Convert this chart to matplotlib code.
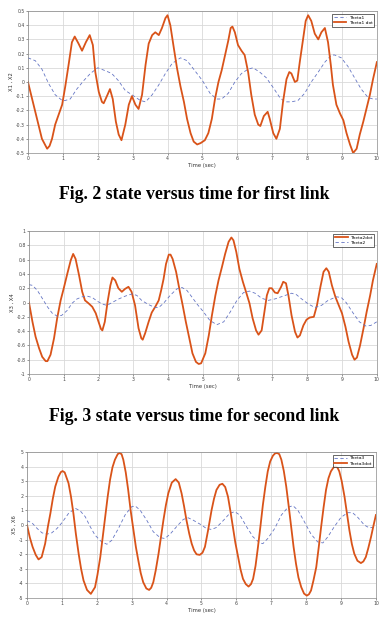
import matplotlib
matplotlib.use("Agg")
import matplotlib.pyplot as plt

# ---------------- Panel 1 (first link) ----------------
t1_dot = [0.0, 0.21, 0.4, 0.55, 0.62, 0.69, 0.78, 0.88, 0.98, 1.07, 1.17, 1.26, 1.34, 1.45, 1.55,
          1.66, 1.77, 1.86, 1.93, 2.03, 2.12, 2.17, 2.28, 2.35, 2.43, 2.52, 2.6, 2.68, 2.79, 2.89,
          2.98, 3.08, 3.17, 3.27, 3.37, 3.46, 3.56, 3.65, 3.75, 3.84, 3.94, 4.0, 4.08, 4.18, 4.27,
          4.37, 4.47, 4.56, 4.66, 4.75, 4.85, 4.95, 5.07, 5.17, 5.27, 5.36, 5.46, 5.55, 5.65, 5.74,
          5.81, 5.86, 5.93, 6.02, 6.12, 6.21, 6.31, 6.4, 6.5, 6.6, 6.66, 6.76, 6.87, 6.93, 7.03,
          7.12, 7.22, 7.31, 7.41, 7.49, 7.55, 7.65, 7.72, 7.79, 7.89, 7.96, 8.03, 8.12, 8.22, 8.32,
          8.41, 8.51, 8.6, 8.68, 8.74, 8.84, 8.94, 9.04, 9.13, 9.23, 9.32, 9.42, 9.51, 9.61, 9.7,
          9.8, 9.89, 10.0]
theta1_dot = [0.0, -0.21, -0.40, -0.47, -0.45, -0.40, -0.30, -0.23, -0.16, -0.03, 0.13, 0.28, 0.32, 0.27, 0.22,
              0.28, 0.33, 0.26, 0.07, -0.07, -0.14, -0.15, -0.09, -0.05, -0.12, -0.28, -0.37, -0.41, -0.30, -0.16,
              -0.10, -0.16, -0.19, -0.09, 0.12, 0.27, 0.33, 0.35, 0.33, 0.38, 0.45, 0.47, 0.40, 0.24, 0.10,
              -0.03, -0.14, -0.26, -0.36, -0.42, -0.44, -0.43, -0.41, -0.36, -0.26, -0.12, 0.0, 0.08, 0.19, 0.29,
              0.38, 0.39, 0.35, 0.26, 0.22, 0.19, 0.07, -0.09, -0.23, -0.30, -0.31, -0.24, -0.21, -0.26, -0.36,
              -0.40, -0.33, -0.14, 0.02, 0.07, 0.06, 0.0, 0.01, 0.14, 0.31, 0.43, 0.47, 0.43, 0.34, 0.30,
              0.35, 0.38, 0.28, 0.12, -0.02, -0.16, -0.22, -0.27, -0.36, -0.44, -0.50, -0.47, -0.37, -0.28, -0.19,
              -0.09, 0.02, 0.14]

t1 = [0.0, 0.21, 0.4, 0.59, 0.78, 0.98, 1.07, 1.21, 1.4, 1.6, 1.79, 2.0, 2.21, 2.4, 2.59, 2.79,
      2.98, 3.22, 3.37, 3.56, 3.75, 3.94, 4.13, 4.37, 4.56, 4.75, 5.0, 5.22, 5.41, 5.55, 5.74,
      5.93, 6.12, 6.31, 6.45, 6.64, 6.83, 7.03, 7.22, 7.36, 7.55, 7.74, 7.93, 8.12, 8.32, 8.51,
      8.7, 8.79, 8.98, 9.17, 9.36, 9.55, 9.75, 9.89, 10.0]
theta1 = [0.17, 0.15, 0.09, -0.01, -0.09, -0.13, -0.13, -0.12, -0.05, 0.01, 0.06, 0.10, 0.08, 0.06, 0.01, -0.06,
          -0.09, -0.13, -0.14, -0.09, -0.02, 0.06, 0.13, 0.17, 0.15, 0.09, 0.01, -0.08, -0.12, -0.12, -0.08,
          0.0, 0.06, 0.09, 0.10, 0.07, 0.03, -0.04, -0.11, -0.14, -0.14, -0.13, -0.08, 0.0, 0.07, 0.14,
          0.19, 0.19, 0.17, 0.11, 0.03, -0.05, -0.11, -0.12, -0.12]

# ---------------- Panel 2 (second link) ----------------
t2_dot = [0.0, 0.1, 0.19, 0.29, 0.38, 0.48, 0.53, 0.62, 0.72, 0.81, 0.91, 1.0, 1.1, 1.2, 1.27, 1.34,
          1.44, 1.53, 1.61, 1.71, 1.82, 1.92, 2.0, 2.07, 2.11, 2.18, 2.26, 2.34, 2.4, 2.48, 2.57,
          2.67, 2.76, 2.86, 2.95, 3.05, 3.15, 3.23, 3.27, 3.34, 3.44, 3.53, 3.63, 3.73, 3.8, 3.87,
          3.94, 4.02, 4.07, 4.13, 4.23, 4.32, 4.42, 4.51, 4.61, 4.7, 4.8, 4.88, 4.95, 5.07, 5.17,
          5.26, 5.36, 5.45, 5.55, 5.64, 5.74, 5.82, 5.88, 5.96, 6.05, 6.15, 6.24, 6.34, 6.43, 6.53,
          6.6, 6.69, 6.77, 6.84, 6.91, 6.98, 7.07, 7.15, 7.25, 7.31, 7.39, 7.46, 7.55, 7.65, 7.72,
          7.79, 7.89, 7.98, 8.07, 8.19, 8.28, 8.38, 8.47, 8.55, 8.62, 8.71, 8.81, 8.9, 9.0, 9.1,
          9.19, 9.29, 9.36, 9.43, 9.52, 9.62, 9.71, 9.81, 9.89, 10.0]
theta2_dot = [0.0, -0.27, -0.48, -0.64, -0.76, -0.82, -0.82, -0.73, -0.50, -0.22, 0.03, 0.20, 0.40, 0.59, 0.68, 0.61,
              0.38, 0.15, 0.03, -0.01, -0.06, -0.15, -0.27, -0.37, -0.39, -0.27, 0.01, 0.24, 0.35, 0.31, 0.20,
              0.15, 0.19, 0.22, 0.15, -0.04, -0.36, -0.50, -0.52, -0.43, -0.27, -0.14, -0.06, 0.03, 0.17, 0.33,
              0.54, 0.67, 0.67, 0.61, 0.43, 0.20, -0.04, -0.27, -0.50, -0.71, -0.83, -0.86, -0.85, -0.71, -0.46,
              -0.18, 0.10, 0.31, 0.50, 0.68, 0.85, 0.91, 0.87, 0.71, 0.47, 0.29, 0.15, -0.01, -0.22, -0.39,
              -0.45, -0.39, -0.13, 0.10, 0.20, 0.20, 0.14, 0.13, 0.22, 0.29, 0.27, 0.10, -0.18, -0.41, -0.49,
              -0.46, -0.32, -0.24, -0.21, -0.20, -0.04, 0.22, 0.43, 0.48, 0.43, 0.24, 0.08, -0.03, -0.15, -0.34,
              -0.55, -0.73, -0.80, -0.77, -0.60, -0.36, -0.13, 0.10, 0.31, 0.54]

t2 = [0.0, 0.1, 0.24, 0.38, 0.53, 0.67, 0.81, 0.94, 1.1, 1.24, 1.38, 1.53, 1.67, 1.82, 1.96, 2.1,
      2.24, 2.39, 2.58, 2.77, 2.96, 3.1, 3.24, 3.44, 3.63, 3.73, 3.87, 4.06, 4.25, 4.4, 4.54,
      4.68, 4.83, 5.0, 5.2, 5.4, 5.6, 5.79, 5.98, 6.17, 6.34, 6.5, 6.69, 6.88, 7.07, 7.31, 7.55,
      7.69, 7.84, 8.03, 8.22, 8.41, 8.6, 8.84, 8.98, 9.12, 9.31, 9.5, 9.69, 9.83, 10.0]
theta2 = [0.25, 0.24, 0.17, 0.06, -0.06, -0.15, -0.19, -0.18, -0.11, -0.01, 0.05, 0.08, 0.09, 0.07, 0.02, -0.02,
          -0.04, 0.0, 0.05, 0.09, 0.12, 0.10, 0.03, -0.03, -0.07, -0.07, -0.01, 0.10, 0.19, 0.21, 0.17,
          0.08, -0.02, -0.12, -0.25, -0.31, -0.27, -0.13, 0.03, 0.14, 0.16, 0.13, 0.06, 0.03, 0.05, 0.09, 0.13,
          0.11, 0.05, -0.02, -0.07, -0.04, 0.03, 0.08, 0.07, 0.0, -0.14, -0.27, -0.33, -0.32, -0.27]

# ---------------- Panel 3 ----------------
t3_dot = [0.0, 0.08, 0.16, 0.25, 0.33, 0.42, 0.52, 0.6, 0.67, 0.74, 0.81, 0.9, 0.97, 1.02, 1.08, 1.19,
          1.26, 1.33, 1.4, 1.48, 1.55, 1.62, 1.72, 1.83, 1.95, 2.02, 2.1, 2.17, 2.24, 2.31, 2.38,
          2.45, 2.52, 2.6, 2.65, 2.71, 2.76, 2.83, 2.9, 2.97, 3.05, 3.12, 3.19, 3.26, 3.33, 3.42, 3.5,
          3.56, 3.62, 3.69, 3.77, 3.84, 3.91, 3.98, 4.05, 4.15, 4.26, 4.35, 4.43, 4.5, 4.57,
          4.65, 4.72, 4.79, 4.86, 4.95, 5.03, 5.1, 5.19, 5.29, 5.36, 5.43, 5.52, 5.6, 5.68, 5.76, 5.83,
          5.9, 5.97, 6.05, 6.12, 6.19, 6.27, 6.35, 6.42, 6.48, 6.55, 6.62, 6.69,
          6.76, 6.83, 6.9, 6.97, 7.05, 7.11, 7.17, 7.23, 7.29, 7.36, 7.43, 7.5, 7.57, 7.64, 7.71, 7.78,
          7.86, 7.94, 8.02, 8.08, 8.14, 8.21, 8.29, 8.36, 8.43, 8.5, 8.57, 8.64, 8.71,
          8.78, 8.84, 8.9, 8.95, 9.02, 9.1, 9.17, 9.24, 9.31, 9.38, 9.47, 9.57, 9.64, 9.71, 9.78, 9.86,
          9.93, 10.0]
theta3_dot = [0.0, -0.85, -1.5, -2.05, -2.36, -2.2, -1.28, -0.1, 0.79, 1.8, 2.63, 3.3, 3.62, 3.69, 3.6, 2.86,
              1.95, 0.79, -0.6, -1.97, -3.0, -3.8, -4.45, -4.72, -4.26, -3.4, -2.2, -0.85, 0.56, 1.9, 3.09,
              3.95, 4.47, 4.85, 4.93, 4.85, 4.47, 3.6, 2.4, 1.0, -0.36, -1.5, -2.43, -3.3, -3.92, -4.35, -4.45,
              -4.3, -3.92, -3.1, -1.97, -0.8, 0.33, 1.35, 2.17, 2.9, 3.14, 2.9, 2.17, 1.3, 0.33,
              -0.6, -1.28, -1.75, -2.01, -2.05, -1.9, -1.5, -0.36, 1.02, 1.8, 2.4, 2.75, 2.82, 2.6, 1.94, 0.95,
              -0.13, -1.2, -2.2, -3.05, -3.69, -4.05, -4.22, -4.05, -3.69, -2.8, -1.5, -0.1,
              1.37, 2.6, 3.67, 4.35, 4.75, 4.9, 4.93, 4.85, 4.47, 3.7, 2.63, 1.3, -0.13, -1.5, -2.66, -3.6,
              -4.26, -4.7, -4.84, -4.75, -4.49, -3.8, -2.89, -1.55, -0.13, 1.2, 2.4, 3.2, 3.67,
              3.92, 4.01, 3.92, 3.67, 3.0, 1.94, 0.8, -0.36, -1.3, -1.97, -2.45, -2.61, -2.5, -2.2, -1.6, -0.82,
              -0.05, 0.68]

t3 = [0.0, 0.14, 0.29, 0.43, 0.57, 0.71, 0.86, 1.0, 1.19, 1.38, 1.52, 1.67, 1.81, 1.95, 2.14, 2.29,
      2.43, 2.62, 2.81, 3.0, 3.1, 3.24, 3.43, 3.62, 3.81, 3.95, 4.1, 4.29, 4.48, 4.62, 4.76,
      5.0, 5.14, 5.29, 5.43, 5.62, 5.81, 5.95, 6.1, 6.29, 6.48, 6.67, 6.76, 6.9, 7.1, 7.29, 7.48,
      7.62, 7.76, 7.95, 8.14, 8.33, 8.48, 8.62, 8.81, 9.0, 9.19, 9.33, 9.48, 9.67, 9.81, 10.0]
theta3 = [0.29, 0.15, -0.24, -0.54, -0.63, -0.54, -0.24, 0.15, 0.79, 1.14, 0.98, 0.56, -0.11, -0.70, -1.16, -1.32,
          -1.05, -0.24, 0.68, 1.25, 1.30, 1.02, 0.33, -0.47, -0.86, -0.93, -0.63, -0.11, 0.38, 0.49, 0.33,
          0.0, -0.24, -0.31, -0.17, 0.29, 0.79, 0.91, 0.68, -0.11, -0.82, -1.23, -1.28, -0.93, -0.24, 0.68, 1.21,
          1.32, 1.02, 0.22, -0.63, -1.16, -1.23, -0.82, -0.11, 0.52, 0.84, 0.84, 0.52, -0.01, -0.20, -0.13]

ylabels = ["X1 , X2", "X3 , X4", "X5 , X6"]
captions = ["Fig. 2 state versus time for first link", "Fig. 3 state versus time for second link"]

ORANGE = "#D95319"
BLUE = "#6475c4"

fig = plt.figure(figsize=(3.83, 6.27), dpi=100)
fig.patch.set_facecolor("white")

positions = [
    [0.073, 0.756, 0.911, 0.2265],
    [0.0757, 0.4035, 0.908, 0.228],
    [0.0705, 0.0463, 0.911, 0.2329],
]

def style(ax, ylim, yticks, yticklabels, ylabel):
    ax.set_xlim(0, 10)
    ax.set_ylim(*ylim)
    ax.set_xticks(range(0, 11))
    ax.set_yticks(yticks)
    ax.set_yticklabels(yticklabels)
    ax.grid(True, color="#d9d9d9", linewidth=0.6)
    ax.set_axisbelow(True)
    ax.tick_params(labelsize=3.3, length=1.2, width=0.4, pad=1.2, colors="#444444")
    for s in ax.spines.values():
        s.set_linewidth(0.5)
        s.set_color("#888888")
    ax.set_xlabel("Time (sec)", fontsize=3.8, labelpad=1.5, color="#333333")
    ax.set_ylabel(ylabel, fontsize=3.8, labelpad=1.5, color="#333333")

def legend(ax):
    leg = ax.legend(loc="upper right", fontsize=3.2, frameon=True, fancybox=False,
                    handlelength=2.8, borderpad=0.4, labelspacing=0.25, handletextpad=0.5,
                    borderaxespad=0.6)
    leg.get_frame().set_edgecolor("#222222")
    leg.get_frame().set_linewidth(0.6)

# Panel 1
ax1 = fig.add_axes(positions[0])
ax1.plot(t1, theta1, linestyle=(0, (4, 3)), color=BLUE, linewidth=0.6, label="Theta1")
ax1.plot(t1_dot, theta1_dot, color=ORANGE, linewidth=1.3, label="Theta1 dot")
yt1 = [-0.5, -0.4, -0.3, -0.2, -0.1, 0, 0.1, 0.2, 0.3, 0.4, 0.5]
style(ax1, (-0.5, 0.5), yt1, ["-0.5", "-0.4", "-0.3", "-0.2", "-0.1", "0", "0.1", "0.2", "0.3", "0.4", "0.5"], ylabels[0])
legend(ax1)

# Panel 2
ax2 = fig.add_axes(positions[1])
ax2.plot(t2_dot, theta2_dot, color=ORANGE, linewidth=1.3, label="Theta2dot")
ax2.plot(t2, theta2, linestyle=(0, (4, 3)), color=BLUE, linewidth=0.6, label="Theta2")
yt2 = [-1, -0.8, -0.6, -0.4, -0.2, 0, 0.2, 0.4, 0.6, 0.8, 1]
style(ax2, (-1, 1), yt2, ["-1", "-0.8", "-0.6", "-0.4", "-0.2", "0", "0.2", "0.4", "0.6", "0.8", "1"], ylabels[1])
legend(ax2)

# Panel 3
ax3 = fig.add_axes(positions[2])
ax3.plot(t3, theta3, linestyle=(0, (4, 3)), color=BLUE, linewidth=0.6, label="Theta3")
ax3.plot(t3_dot, theta3_dot, color=ORANGE, linewidth=1.3, label="Theta3dot")
yt3 = list(range(-5, 6))
style(ax3, (-5, 5), yt3, [str(v) for v in yt3], ylabels[2])
legend(ax3)

fig.text(0.506, 0.689, captions[0], ha="center", va="center", fontsize=12.8,
         fontweight="bold", family="Liberation Serif")
fig.text(0.506, 0.335, captions[1], ha="center", va="center", fontsize=12.8,
         fontweight="bold", family="Liberation Serif")

fig.savefig("out.png", dpi=100, facecolor="white")
